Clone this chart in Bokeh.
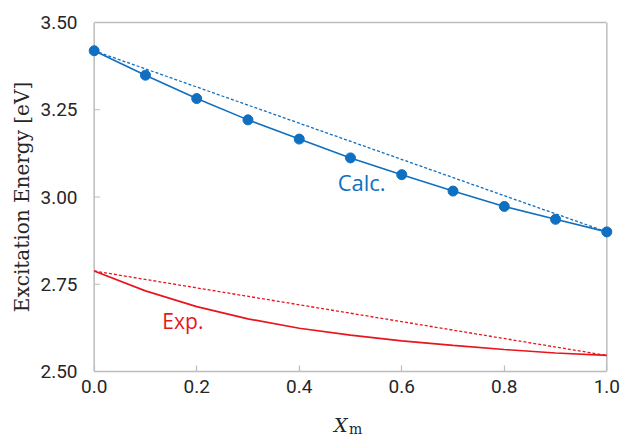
from bokeh.plotting import figure
from bokeh.models import Range1d, FixedTicker, Label, CustomJSTickFormatter, LinearAxis, Div
from bokeh.layouts import column
from bokeh.embed import file_html
from bokeh.resources import INLINE

# ---- data ----
x_vals = [0.0, 0.1, 0.2, 0.3, 0.4, 0.5, 0.6, 0.7, 0.8, 0.9, 1.0]
calc_vals = [3.419, 3.349, 3.282, 3.221, 3.166, 3.112, 3.064, 3.017, 2.973, 2.936, 2.900]
exp_vals = [2.788, 2.731, 2.686, 2.651, 2.624, 2.604, 2.588, 2.575, 2.563, 2.553, 2.546]
calc_ends_x = [0.0, 1.0]
calc_ends_y = [3.419, 2.900]
exp_ends_x = [0.0, 1.0]
exp_ends_y = [2.788, 2.546]
x_ticks = [0.0, 0.2, 0.4, 0.6, 0.8, 1.0]
y_ticks = [2.50, 2.75, 3.00, 3.25, 3.50]
X_MIN, X_MAX = 0.0, 1.0
Y_MIN, Y_MAX = 2.5, 3.5
PAD = 0.015  # room so the end markers are not cut at the box edge

BLUE = "#0f6fc0"
RED = "#e8161c"
GRAY = "#bcbcbc"
TXT = "#262626"

p = figure(width=621, height=412, output_backend="svg", toolbar_location=None,
           x_range=Range1d(X_MIN - PAD, X_MAX + PAD), y_range=Range1d(Y_MIN, Y_MAX),
           min_border_left=86, min_border_right=7, min_border_top=22, min_border_bottom=41)
p.background_fill_color = "white"
p.border_fill_color = "white"
p.outline_line_color = None
p.xgrid.visible = False
p.ygrid.visible = False

xa = p.xaxis[0]
ya = p.yaxis[0]
for ax in (xa, ya):
    ax.major_label_text_font = "Roboto"
    ax.major_label_text_font_size = "19px"
    ax.major_label_text_color = TXT
    ax.minor_tick_line_color = None

# bottom axis: spine + inner ticks + labels
xa.bounds = (X_MIN, X_MAX)
xa.axis_line_color = GRAY
xa.axis_line_width = 1.5
xa.major_tick_line_color = GRAY
xa.major_tick_line_width = 1.2
xa.major_tick_in = 6
xa.major_tick_out = 0
xa.ticker = FixedTicker(ticks=x_ticks)
xa.formatter = CustomJSTickFormatter(code="return tick.toFixed(1);")
xa.major_label_standoff = 8

# left axis: labels only (spine and ticks drawn at x = 0 below)
ya.bounds = (Y_MIN, Y_MAX)
ya.axis_line_color = None
ya.major_tick_line_color = None
ya.major_tick_in = 0
ya.major_tick_out = 0
ya.ticker = FixedTicker(ticks=y_ticks)
ya.formatter = CustomJSTickFormatter(code="return tick.toFixed(2);")
ya.major_label_standoff = 9
ya.axis_label = "Excitation Energy [eV]"
ya.axis_label_text_font = "DejaVu Serif"
ya.axis_label_text_font_style = "normal"
ya.axis_label_text_font_size = "20px"
ya.axis_label_text_color = TXT
ya.axis_label_standoff = 3

# top edge of the box
top_ax = LinearAxis(ticker=FixedTicker(ticks=x_ticks), bounds=(X_MIN, X_MAX),
                    formatter=CustomJSTickFormatter(code="return '';"),
                    axis_line_color=GRAY, axis_line_width=1.5,
                    major_tick_line_color=None, minor_tick_line_color=None,
                    major_tick_in=0, major_tick_out=0, major_label_standoff=0,
                    major_label_text_font_size="1px")
p.add_layout(top_ax, "above")

# left and right edges of the box, and the inner ticks of the y axis
p.segment(x0=[X_MIN, X_MAX], y0=[Y_MIN, Y_MIN], x1=[X_MIN, X_MAX], y1=[Y_MAX, Y_MAX],
          line_color=GRAY, line_width=1.5)
p.ray(x=[X_MIN] * len(y_ticks), y=y_ticks, length=6, length_units="screen", angle=0,
      line_color=GRAY, line_width=1.2)

# dashed straight reference lines
p.line(calc_ends_x, calc_ends_y, line_color=BLUE, line_width=1.3, line_dash="3 2")
p.line(exp_ends_x, exp_ends_y, line_color=RED, line_width=1.3, line_dash="3 2")

# curves
p.line(x_vals, calc_vals, line_color=BLUE, line_width=1.6)
p.line(x_vals, exp_vals, line_color=RED, line_width=1.7)
p.scatter(x_vals, calc_vals, size=10, fill_color=BLUE, line_color=BLUE)

# annotations
p.add_layout(Label(x=0.475, y=3.044, text="Calc.", text_color=BLUE, text_font="Open Sans",
                   text_font_size="22px", text_baseline="middle", text_align="left"))
p.add_layout(Label(x=0.133, y=2.645, text="Exp.", text_color=RED, text_font="Open Sans",
                   text_font_size="21px", text_baseline="middle", text_align="left"))

# x-axis title  X_m (italic X, upright subscript m)
xlabel = Div(
    text=('<div style="position:relative;width:621px;height:24px;color:%s;">'
          '<span style="position:absolute;left:334px;top:4px;font-family:\'DejaVu Serif\';'
          'font-style:italic;font-size:19px;line-height:19px;">X</span>'
          '<span style="position:absolute;left:349px;top:10px;font-family:\'DejaVu Serif\';'
          'font-size:14px;line-height:14px;">m</span></div>') % TXT,
    width=621, height=24, margin=(0, 0, 0, 0))

layout = column(p, xlabel, spacing=0, margin=(0, 0, 0, 0))
open("out.html", "w").write(file_html(layout, INLINE))
